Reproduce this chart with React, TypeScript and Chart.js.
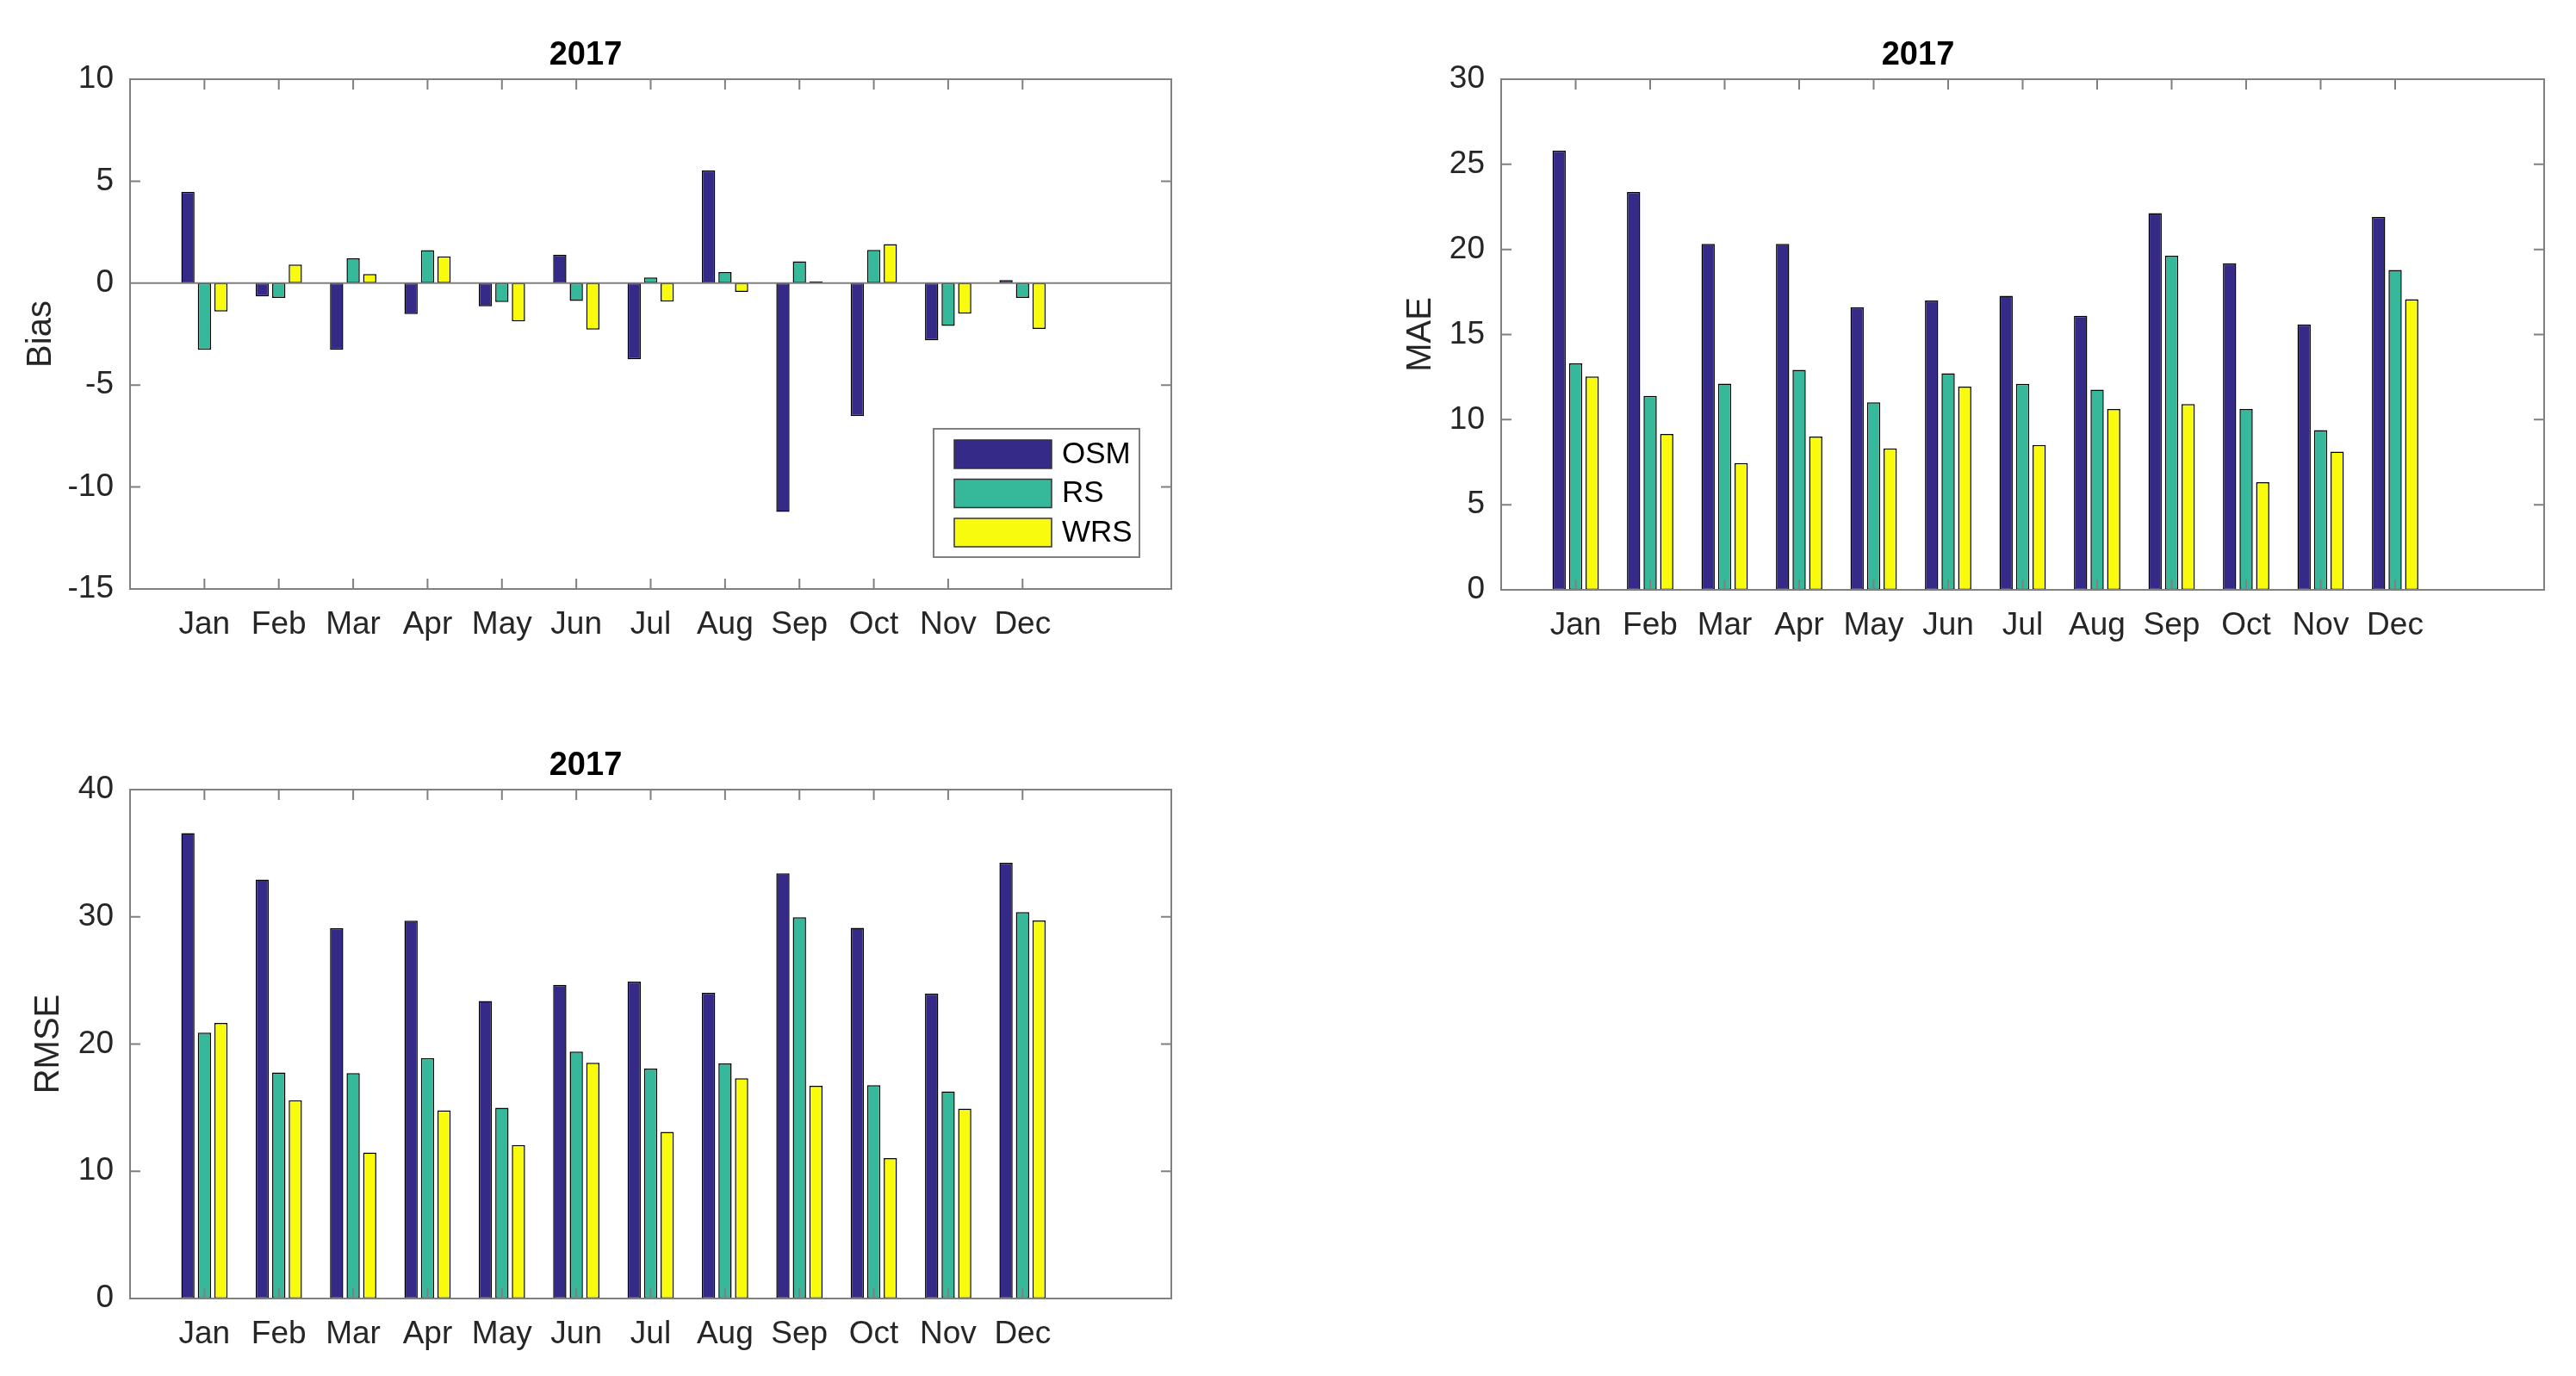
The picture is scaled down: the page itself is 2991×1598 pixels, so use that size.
import { useEffect, useRef } from 'react';
import { Chart, registerables } from 'chart.js';

Chart.register(...registerables);

// ---- data ----
const months = ['Jan', 'Feb', 'Mar', 'Apr', 'May', 'Jun', 'Jul', 'Aug', 'Sep', 'Oct', 'Nov', 'Dec'];
const seriesNames = ['OSM', 'RS', 'WRS'];
const seriesColors = ['#352a87', '#36b89a', '#f9fb0e'];

const biasOSM = [4.48, -0.65, -3.27, -1.52, -1.14, 1.4, -3.74, 5.52, -11.22, -6.52, -2.81, 0.15];
const biasRS = [-3.27, -0.73, 1.22, 1.62, -0.93, -0.87, 0.28, 0.54, 1.07, 1.63, -2.1, -0.73];
const biasWRS = [-1.39, 0.91, 0.45, 1.31, -1.88, -2.28, -0.91, -0.43, 0.09, 1.91, -1.5, -2.25];

const maeOSM = [25.8, 23.37, 20.33, 20.33, 16.61, 17.0, 17.28, 16.1, 22.13, 19.19, 15.6, 21.9];
const maeRS = [13.31, 11.4, 12.12, 12.92, 11.01, 12.72, 12.1, 11.76, 19.63, 10.63, 9.39, 18.8];
const maeWRS = [12.54, 9.16, 7.45, 9.0, 8.31, 11.94, 8.51, 10.63, 10.91, 6.32, 8.12, 17.07];

const rmseOSM = [36.59, 32.93, 29.1, 29.69, 23.38, 24.66, 24.9, 24.03, 33.41, 29.14, 23.97, 34.24];
const rmseRS = [20.9, 17.76, 17.72, 18.9, 15.0, 19.41, 18.07, 18.48, 29.97, 16.76, 16.28, 30.38];
const rmseWRS = [21.66, 15.59, 11.48, 14.79, 12.07, 18.52, 13.1, 17.31, 16.72, 11.03, 14.93, 29.72];

const FONT = "'Liberation Sans', Arial, Helvetica, sans-serif";
const TEXT = '#262626';
const AXIS_GRAY = '#808080';

// MATLAB style box: frame, inward ticks on all four sides, zero baseline
const framePlugin = {
  id: 'matlabFrame',
  afterDatasetsDraw(chart: any) {
    const { ctx, chartArea: a, scales } = chart;
    const x = scales.x;
    const y = scales.y;
    const len = 12;
    ctx.save();
    ctx.strokeStyle = AXIS_GRAY;
    ctx.lineWidth = 2;
    ctx.beginPath();
    if (y.min < 0 && y.max > 0) {
      const py = y.getPixelForValue(0);
      ctx.moveTo(a.left, py);
      ctx.lineTo(a.right, py);
    }
    for (let i = 1; i <= months.length; i++) {
      const px = x.getPixelForValue(i);
      ctx.moveTo(px, a.bottom);
      ctx.lineTo(px, a.bottom - len);
      ctx.moveTo(px, a.top);
      ctx.lineTo(px, a.top + len);
    }
    y.ticks.forEach((t: any) => {
      const py = y.getPixelForValue(t.value);
      ctx.moveTo(a.left, py);
      ctx.lineTo(a.left + len, py);
      ctx.moveTo(a.right, py);
      ctx.lineTo(a.right - len, py);
    });
    ctx.stroke();
    ctx.strokeRect(a.left, a.top, a.right - a.left, a.bottom - a.top);
    ctx.restore();
  },
};

// boxed legend in the lower right corner of the axes
const legendPlugin = {
  id: 'boxLegend',
  afterDraw(chart: any) {
    const { ctx, chartArea: a } = chart;
    const w = 239;
    const h = 149;
    const bx = a.right - 37 - w;
    const by = a.bottom - 37 - h;
    ctx.save();
    ctx.fillStyle = '#ffffff';
    ctx.fillRect(bx, by, w, h);
    ctx.strokeStyle = AXIS_GRAY;
    ctx.lineWidth = 2;
    ctx.strokeRect(bx, by, w, h);
    ctx.font = `35px ${FONT}`;
    ctx.textBaseline = 'middle';
    ctx.textAlign = 'left';
    seriesNames.forEach((name, i) => {
      const sy = by + 13 + i * 45.5;
      ctx.fillStyle = seriesColors[i];
      ctx.fillRect(bx + 24, sy, 113, 33);
      ctx.strokeStyle = '#333333';
      ctx.lineWidth = 1.5;
      ctx.strokeRect(bx + 24, sy, 113, 33);
      ctx.fillStyle = '#000000';
      ctx.fillText(name, bx + 149, sy + 17);
    });
    ctx.restore();
  },
};

type PanelProps = {
  yLabel: string;
  series: number[][];
  yMin: number;
  yMax: number;
  yStep: number;
  left: number;
  top: number;
  width: number;
  height: number;
  plotLeft: number;
  plotTop: number;
  plotRight: number;
  plotBottom: number;
  yLabelPad: number;
  showLegend?: boolean;
};

function BarPanel(p: PanelProps) {
  const canvasRef = useRef<HTMLCanvasElement | null>(null);

  useEffect(() => {
    if (!canvasRef.current) return;
    const labels = ['', ...months, '', ''];
    const titleLine = 38 * 1.2;
    const titlePadBottom = 5;
    const chart = new Chart(canvasRef.current, {
      type: 'bar',
      data: {
        labels,
        datasets: p.series.map((vals, i) => ({
          label: seriesNames[i],
          data: [null, ...vals, null, null],
          backgroundColor: seriesColors[i],
          borderColor: '#000000',
          borderWidth: 1.5,
          borderSkipped: false,
          categoryPercentage: 2 / 3,
          barPercentage: 0.8,
        })),
      },
      options: {
        animation: false,
        responsive: true,
        maintainAspectRatio: false,
        layout: {
          padding: {
            top: p.plotTop - titleLine - titlePadBottom,
            right: p.width - p.plotRight,
            bottom: 0,
            left: 0,
          },
        },
        plugins: {
          legend: { display: false },
          tooltip: { enabled: false },
          title: {
            display: true,
            text: '2017',
            color: '#000000',
            font: { family: FONT, size: 38, weight: 'bold' },
            padding: { top: 0, bottom: titlePadBottom },
          },
        },
        scales: {
          x: {
            type: 'category',
            offset: false,
            grid: { display: false, drawTicks: false },
            border: { display: false },
            ticks: {
              autoSkip: false,
              maxRotation: 0,
              color: TEXT,
              padding: 20,
              font: { family: FONT, size: 37 },
            },
            afterFit: (s: any) => {
              s.height = p.height - p.plotBottom;
            },
          },
          y: {
            type: 'linear',
            min: p.yMin,
            max: p.yMax,
            grid: { display: false, drawTicks: false },
            border: { display: false },
            ticks: {
              stepSize: p.yStep,
              color: TEXT,
              padding: 19,
              font: { family: FONT, size: 37 },
            },
            title: {
              display: true,
              text: p.yLabel,
              color: TEXT,
              font: { family: FONT, size: 40 },
              padding: { top: p.yLabelPad, bottom: 0 },
            },
            afterFit: (s: any) => {
              s.width = p.plotLeft;
            },
          },
        },
      },
      plugins: p.showLegend ? [framePlugin, legendPlugin] : [framePlugin],
    } as any);
    return () => chart.destroy();
  }, [p]);

  return (
    <div style={{ position: 'absolute', left: p.left, top: p.top, width: p.width, height: p.height }}>
      <canvas ref={canvasRef} />
    </div>
  );
}

const biasPanel: PanelProps = {
  yLabel: 'Bias',
  series: [biasOSM, biasRS, biasWRS],
  yMin: -15,
  yMax: 10,
  yStep: 5,
  left: 0,
  top: 0,
  width: 1495,
  height: 799,
  plotLeft: 151,
  plotTop: 92,
  plotRight: 1360,
  plotBottom: 684,
  yLabelPad: 24,
  showLegend: true,
};

const maePanel: PanelProps = {
  yLabel: 'MAE',
  series: [maeOSM, maeRS, maeWRS],
  yMin: 0,
  yMax: 30,
  yStep: 5,
  left: 1500,
  top: 0,
  width: 1491,
  height: 799,
  plotLeft: 243,
  plotTop: 92,
  plotRight: 1454,
  plotBottom: 685,
  yLabelPad: 126,
};

const rmsePanel: PanelProps = {
  yLabel: 'RMSE',
  series: [rmseOSM, rmseRS, rmseWRS],
  yMin: 0,
  yMax: 40,
  yStep: 10,
  left: 0,
  top: 800,
  width: 1495,
  height: 798,
  plotLeft: 151,
  plotTop: 117,
  plotRight: 1360,
  plotBottom: 708,
  yLabelPad: 33,
};

export default function App() {
  return (
    <div style={{ position: 'absolute', left: 0, top: 0, width: 2991, height: 1598, background: '#ffffff' }}>
      <BarPanel {...biasPanel} />
      <BarPanel {...maePanel} />
      <BarPanel {...rmsePanel} />
    </div>
  );
}
